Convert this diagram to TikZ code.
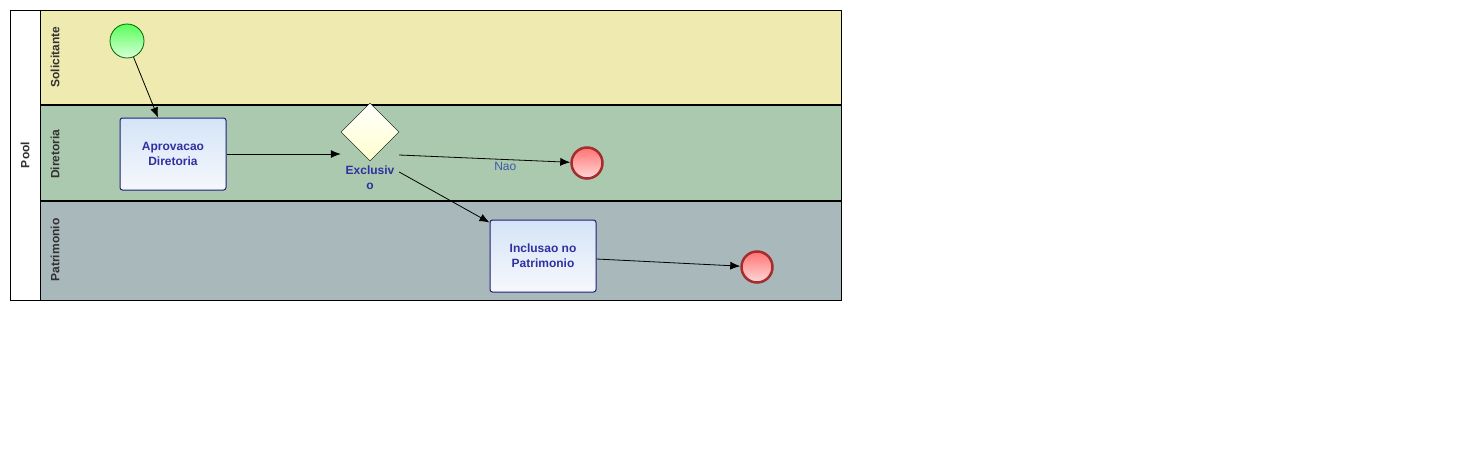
\documentclass[tikz,border=0pt]{standalone}
\usepackage{fontspec}
\setmainfont{Liberation Sans}
\usepackage{tikz}
\usetikzlibrary{arrows.meta,shapes.geometric,positioning}

\definecolor{laneSol}{RGB}{238,234,176}
\definecolor{laneDir}{RGB}{171,201,174}
\definecolor{lanePat}{RGB}{168,184,187}
\definecolor{taskText}{RGB}{48,48,160}
\definecolor{taskLine}{RGB}{30,30,120}
\definecolor{taskTop}{RGB}{212,228,247}
\definecolor{taskBot}{RGB}{246,248,252}
\definecolor{labelGray}{RGB}{50,50,50}
\definecolor{endLine}{RGB}{165,45,45}
\definecolor{naoText}{RGB}{60,90,170}

\begin{document}
\begin{tikzpicture}[x=1pt, y=-1pt,
    font=\fontsize{12}{15}\selectfont,
    lanelabel/.style={rotate=90, font=\fontsize{12}{14}\selectfont\bfseries, text=labelGray},
    task/.style={draw=taskLine, line width=1pt, rounded corners=2.5pt, minimum width=106pt,
        minimum height=72pt, align=center, top color=taskTop, bottom color=taskBot,
        text=taskText, font=\fontsize{12}{15}\selectfont\bfseries},
    startev/.style={circle, draw=green!40!black, line width=0.8pt, minimum size=34pt,
        inner sep=0pt, top color=green!65!white, bottom color=green!15!white},
    endev/.style={circle, draw=endLine, line width=2.5pt, minimum size=31pt, inner sep=0pt,
        top color=red!55!white, bottom color=red!15!white},
    gateway/.style={diamond, draw, aspect=1, minimum size=58pt, inner sep=0pt,
        top color=white, bottom color=yellow!20!white},
    flow/.style={-{Latex[length=10pt,width=8pt]}, line width=0.8pt}]
    \useasboundingbox (0,0) rectangle (1460,453);

    % Lanes
    \fill[laneSol] (40,10) rectangle (841,105);
    \fill[laneDir] (40,105) rectangle (841,201);
    \fill[lanePat] (40,201) rectangle (841,300);
    \fill[white] (10,10) rectangle (40,300);
    \draw (10,10) rectangle (841,300);
    \draw (40,10) -- (40,300);
    \draw[line width=2pt] (40,105) -- (841,105);
    \draw[line width=2pt] (40,201) -- (841,201);

    % Pool and lane names
    \node[lanelabel] (pool) at (25,155) {Pool};
    \node[lanelabel] (lSol) at (55,57) {Solicitante};
    \node[lanelabel] (lDir) at (55,154) {Diretoria};
    \node[lanelabel] (lPat) at (55,250) {Patrimonio};

    % Process elements
    \node[startev] (start) at (127,41) {};
    \node[task] (apr) at (173,154) {Aprovacao\\Diretoria};
    \node[gateway] (gw) at (370,132) {};
    \node[below=1pt of gw, align=center, text=taskText, font=\fontsize{12}{15}\selectfont\bfseries] (gwlab) {Exclusiv\\o};
    \node[endev] (endA) at (587,163) {};
    \node[task] (inc) at (543,256) {Inclusao no\\Patrimonio};
    \node[endev] (endB) at (757,267) {};

    % Sequence flows
    \draw[flow] (start) -- ([xshift=-15pt]apr.north);
    \draw[flow] (apr.east) -- (apr.east -| gw.west);
    \draw[flow] ([yshift=-23pt]gw.east) -- (endA)
        node[pos=0.62, below=1pt, inner sep=1pt, text=naoText] (nao) {Nao};
    \draw[flow] ([yshift=-40pt]gw.east) -- ([yshift=-3pt]inc.north west);
    \draw[flow] ([yshift=-3pt]inc.east) -- (endB);
\end{tikzpicture}
\end{document}
